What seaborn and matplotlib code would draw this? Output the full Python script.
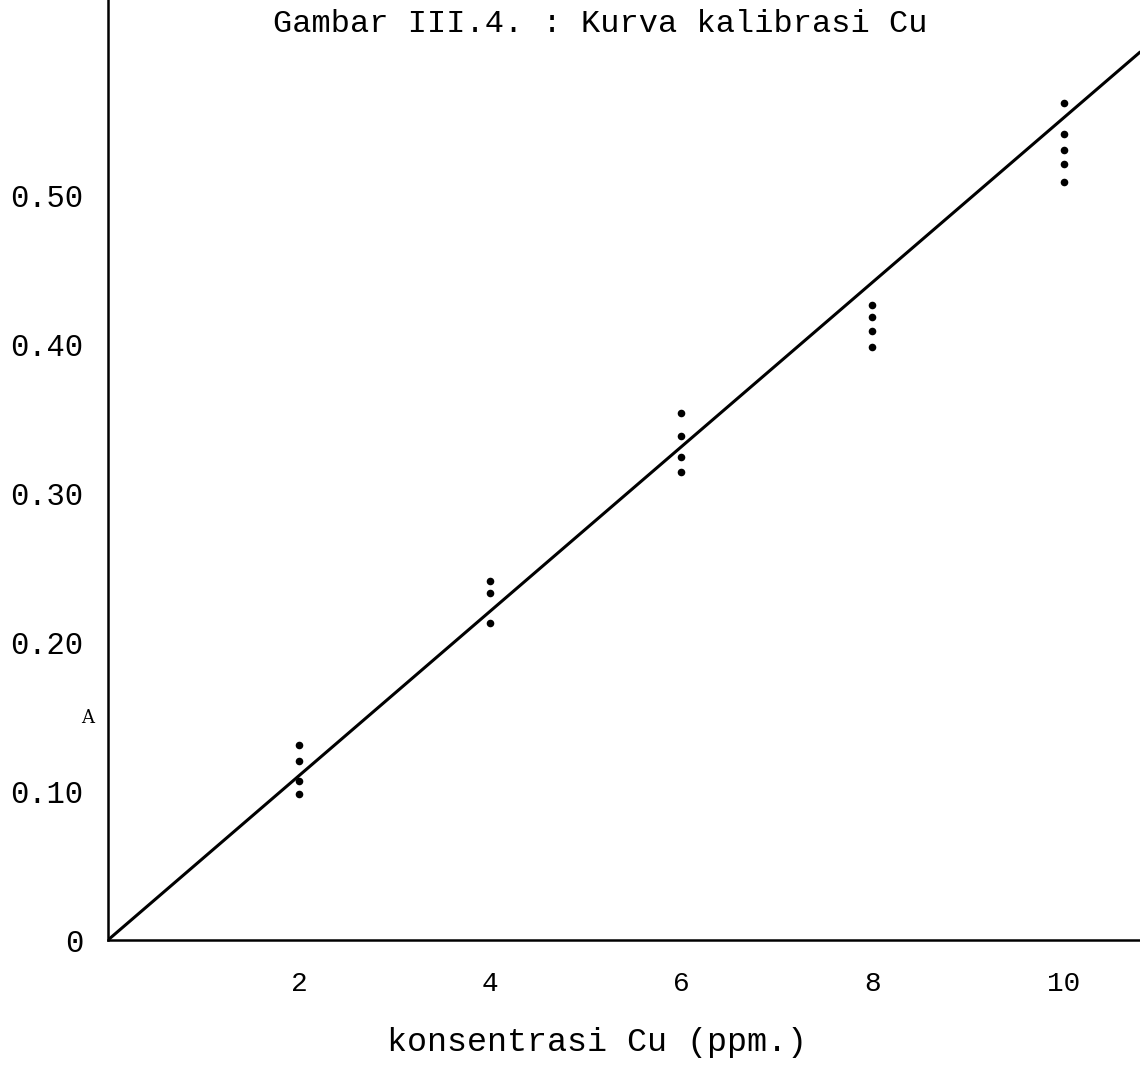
import matplotlib
matplotlib.use("Agg")
import matplotlib.pyplot as plt
import seaborn as sns
import pandas as pd

# ---- data ----
conc = [2, 2, 2, 2, 4, 4, 4, 6, 6, 6, 6, 8, 8, 8, 8, 10, 10, 10, 10, 10]
absorb = [0.131, 0.120, 0.107, 0.098,
          0.241, 0.233, 0.213,
          0.354, 0.338, 0.324, 0.314,
          0.426, 0.418, 0.409, 0.398,
          0.562, 0.541, 0.530, 0.521, 0.509]
line_x = [0.0, 10.8]
line_y = [0.0, 0.596]
x_ticks = [2, 4, 6, 8, 10]
x_ticklabels = ["2", "4", "6", "8", "10"]
y_ticks = [0.0, 0.10, 0.20, 0.30, 0.40, 0.50]
y_ticklabels = ["0", "0.10", "0.20", "0.30", "0.40", "0.50"]
title = "Gambar III.4. : Kurva kalibrasi Cu"
xlabel = "konsentrasi Cu (ppm.)"
ylabel = "A"

sns.set_theme(style="white")
plt.rcParams['font.family'] = ['Liberation Mono', 'DejaVu Sans']
plt.rcParams['text.color'] = 'black'
plt.rcParams['axes.labelcolor'] = 'black'
plt.rcParams['xtick.color'] = 'black'
plt.rcParams['ytick.color'] = 'black'

fig = plt.figure(figsize=(11.4, 10.72), dpi=100)
ax = fig.add_axes([108 / 1140, 132 / 1072, 1 - 108 / 1140, 1 - 132 / 1072])

pts = pd.DataFrame({"conc": conc, "absorb": absorb})
lin = pd.DataFrame({"x": line_x, "y": line_y})
sns.lineplot(data=lin, x="x", y="y", ax=ax, color="black", linewidth=2.2)
sns.scatterplot(data=pts, x="conc", y="absorb", ax=ax, color="black",
                s=30, edgecolor="black", linewidth=0)

ax.set_xlim(0, 10.8)
ax.set_ylim(0, 0.631)
for s in ["top", "right"]:
    ax.spines[s].set_visible(False)
for s in ["left", "bottom"]:
    ax.spines[s].set_color("black")
    ax.spines[s].set_linewidth(1.8)

ax.set_xticks(x_ticks)
ax.set_xticklabels(x_ticklabels, fontsize=20)
ax.set_yticks(y_ticks)
ax.set_yticklabels(y_ticklabels, fontsize=22)
ax.tick_params(axis="x", direction="inout", length=22, width=1.5, pad=11, colors="black")
ax.tick_params(axis="y", direction="in", length=12, width=1.5, pad=18, colors="black")
ax.set_xlabel("")
ax.set_ylabel(ylabel, rotation=0, fontsize=13, family="DejaVu Serif", va="center")
ax.yaxis.set_label_coords(-20 / 1032, (940 - 718) / 940)

fig.text(600 / 1140, 1 - 24 / 1072, title, ha="center", va="center", fontsize=23)
fig.text(597 / 1140, 1 - 1042 / 1072, xlabel, ha="center", va="center", fontsize=24)

fig.savefig("out.png", dpi=100, facecolor="white")
